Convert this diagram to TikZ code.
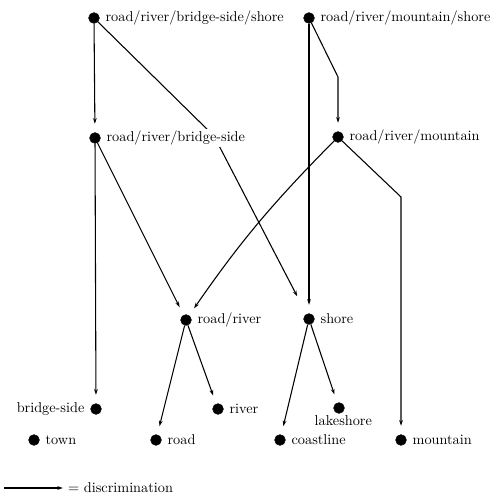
\documentclass[tikz,border=0pt]{standalone}
\usetikzlibrary{arrows.meta,backgrounds}
\tikzstyle{dot}=[circle,fill=black,draw,minimum size=7.5pt,inner sep=0pt]
\tikzstyle{lbl}=[fill=white,inner sep=1pt]
\tikzstyle{disc}=[draw,line width=0.75pt,-{Stealth[length=4pt,width=2.6pt]},shorten >=6pt]

\begin{document}
\begin{tikzpicture}[x=0.7pt,y=-0.7pt,label distance=3pt]
    \useasboundingbox (0,0) rectangle (491,496);

    \foreach \n/\x/\y/\pos/\txt in {rrbs/94/18/right/{road/river/bridge-side/shore},
        rrms/309/18/right/{road/river/mountain/shore}, rrb/95/138/right/{road/river/bridge-side},
        rrm/338/137/right/{road/river/mountain}, rr/186/320/right/{road/river}, shore/309/319/right/{shore},
        bside/96/409/left/{bridge-side}, river/218/409/right/{river}, town/34/440/right/{town},
        road/156/440/right/{road}, coast/280/440/right/{coastline}, mount/401/440/right/{mountain}}
        \node[dot, label={[lbl]\pos:\txt}] (\n) at (\x,\y) {};
    \node[dot, label={[lbl,label distance=0pt,xshift=3pt]below:lakeshore}] (lake) at (339,408) {};

    \coordinate (k1) at (214,136);
    \coordinate (k2) at (338,77);
    \coordinate (k3) at (401,197);

    \begin{scope}[on background layer]
    \draw[disc] (rrbs) -- (rrb);
    \draw[disc, shorten >=14pt] (rrbs) -- (k1) -- (shore);
    \draw[disc] (rrms) -- (shore);
    \draw[disc] (rrms) -- (k2) -- (rrm);
    \draw[disc] (rrb) -- (bside);
    \draw[disc] (rrb) -- (rr);
    \draw[disc] (rrm) to[bend right=5] (rr);
    \draw[disc] (rrm) -- (k3) -- (mount);
    \foreach \source/\dest in {rr/road, rr/river, shore/coast, shore/lake}
        \draw[disc] (\source) -- (\dest);
    \end{scope}

    % legend
    \coordinate (lg) at (4,488);
    \node[anchor=west] (lgtxt) at (63,488) {= discrimination};
    \draw[disc, shorten >=0pt] (lg) -- (lgtxt);
\end{tikzpicture}
\end{document}
